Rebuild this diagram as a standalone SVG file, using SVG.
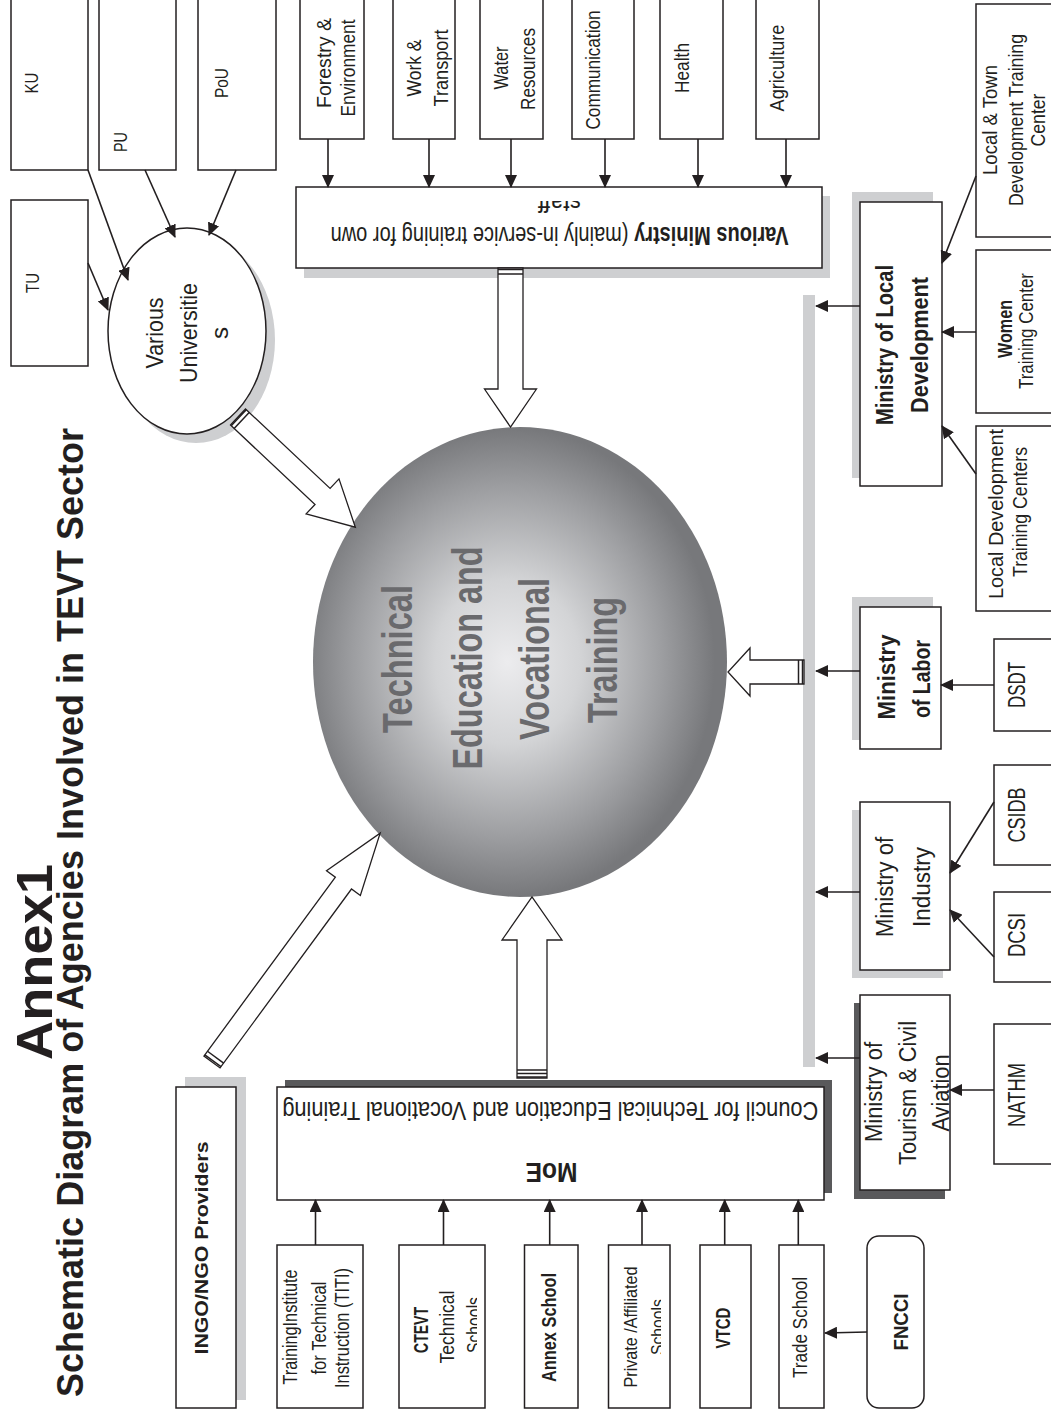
<svg xmlns="http://www.w3.org/2000/svg" width="1051" height="1418" viewBox="0 0 1051 1418">
<defs>
<style>
.t{font-family:"Liberation Sans",Arial,sans-serif;fill:#231f20;text-anchor:middle}
.b{font-weight:bold}
.box{fill:#fff;stroke:#231f20;stroke-width:1.5}
.sh{fill:#cecfd1}
.dsh{fill:#59595b}
.ln{stroke:#231f20;stroke-width:1.6;fill:none;marker-end:url(#ah)}
.blk{fill:#fff;stroke:#231f20;stroke-width:1.3}
.cap{stroke:#231f20;stroke-width:1.5}
.tv{font-family:"Liberation Sans",Arial,sans-serif;font-weight:bold;fill:#6a6a6d;text-anchor:middle}
</style>
<marker id="ah" markerUnits="userSpaceOnUse" markerWidth="13" markerHeight="12" viewBox="0 0 13 12" refX="12" refY="6" orient="auto"><path d="M0,0 L13,6 L0,12 z" fill="#231f20"/></marker>
<radialGradient id="gv" cx="0.47" cy="0.5" r="0.5">
<stop offset="0" stop-color="#ececee"/>
<stop offset="0.35" stop-color="#d3d4d6"/>
<stop offset="0.75" stop-color="#9c9da0"/>
<stop offset="1" stop-color="#77787b"/>
</radialGradient>
<clipPath id="cStaff"><rect x="290" y="201" width="540" height="20"/></clipPath>
<clipPath id="cS1"><rect x="440" y="1250" width="37" height="150"/></clipPath>
<clipPath id="cS2"><rect x="600" y="1250" width="61" height="150"/></clipPath>
</defs>
<rect width="1051" height="1418" fill="#fff"/>

<g id="title">
<text class="t b" font-size="50" transform="translate(52,962) rotate(-90)" textLength="196" lengthAdjust="spacingAndGlyphs">Annex1</text>
<text class="t b" font-size="36" style="text-anchor:end" transform="translate(83,428) rotate(-90)">Schematic Diagram of Agencies Involved in TEVT Sector</text>
</g>

<g id="node-ku"><rect class="box" x="11" y="-5" width="77" height="175"/>
<text class="t" font-size="18" transform="translate(38,83) rotate(-90)" textLength="21" lengthAdjust="spacingAndGlyphs">KU</text></g>
<g id="node-pu"><rect class="box" x="99" y="-5" width="77" height="175"/>
<text class="t" font-size="18" transform="translate(127,142) rotate(-90)" textLength="20" lengthAdjust="spacingAndGlyphs">PU</text></g>
<g id="node-pou"><rect class="box" x="198" y="-5" width="78" height="175"/>
<text class="t" font-size="18" transform="translate(228,83) rotate(-90)" textLength="30" lengthAdjust="spacingAndGlyphs">PoU</text></g>
<g id="node-tu"><rect class="box" x="11" y="200" width="77" height="166"/>
<text class="t" font-size="18" transform="translate(39,283) rotate(-90)" textLength="20" lengthAdjust="spacingAndGlyphs">TU</text></g>

<g id="node-universities">
<ellipse class="sh" cx="196" cy="340" rx="79" ry="103"/>
<ellipse class="box" cx="187" cy="331" rx="79" ry="103"/>
<text class="t" font-size="24" transform="translate(163,333) rotate(-90)" textLength="71" lengthAdjust="spacingAndGlyphs">Various</text>
<text class="t" font-size="24" transform="translate(197,333) rotate(-90)" textLength="100" lengthAdjust="spacingAndGlyphs">Universitie</text>
<text class="t" font-size="24" transform="translate(228,333) rotate(-90)">s</text>
</g>

<g id="node-forestry"><rect class="box" x="300" y="-5" width="64" height="144"/>
<text class="t" font-size="21" transform="translate(331,63) rotate(-90)" textLength="90" lengthAdjust="spacingAndGlyphs">Forestry &amp;</text>
<text class="t" font-size="21" transform="translate(355,68) rotate(-90)" textLength="97" lengthAdjust="spacingAndGlyphs">Environment</text></g>
<g id="node-work"><rect class="box" x="393" y="-5" width="62" height="144"/>
<text class="t" font-size="21" transform="translate(421,68) rotate(-90)" textLength="57" lengthAdjust="spacingAndGlyphs">Work &amp;</text>
<text class="t" font-size="21" transform="translate(448,68) rotate(-90)" textLength="77" lengthAdjust="spacingAndGlyphs">Transport</text></g>
<g id="node-water"><rect class="box" x="480" y="-5" width="63" height="144"/>
<text class="t" font-size="21" transform="translate(508,68) rotate(-90)" textLength="43" lengthAdjust="spacingAndGlyphs">Water</text>
<text class="t" font-size="21" transform="translate(535,69) rotate(-90)" textLength="82" lengthAdjust="spacingAndGlyphs">Resources</text></g>
<g id="node-communication"><rect class="box" x="572" y="-5" width="62" height="144"/>
<text class="t" font-size="21" transform="translate(600,70) rotate(-90)" textLength="119" lengthAdjust="spacingAndGlyphs">Communication</text></g>
<g id="node-health"><rect class="box" x="660" y="-5" width="63" height="144"/>
<text class="t" font-size="21" transform="translate(689,68) rotate(-90)" textLength="50" lengthAdjust="spacingAndGlyphs">Health</text></g>
<g id="node-agriculture"><rect class="box" x="756" y="-5" width="63" height="144"/>
<text class="t" font-size="21" transform="translate(784,68) rotate(-90)" textLength="87" lengthAdjust="spacingAndGlyphs">Agriculture</text></g>

<g id="node-various-ministry">
<rect class="sh" x="304" y="196" width="526" height="82"/>
<rect class="box" x="296" y="187" width="526" height="81"/>
<text class="t" font-size="25" transform="translate(559.6,227) rotate(180)" textLength="458" lengthAdjust="spacingAndGlyphs"><tspan class="b">Various Ministry</tspan> (mainly in-service training for own</text>
<g clip-path="url(#cStaff)"><text class="t" font-size="25" transform="translate(559.5,194) rotate(180)" textLength="43" lengthAdjust="spacingAndGlyphs">staff</text></g>
</g>

<g id="node-tevt">
<ellipse cx="520" cy="662" rx="207" ry="235" fill="url(#gv)"/>
<text class="tv" font-size="43" transform="translate(412,659) rotate(-90)" textLength="148" lengthAdjust="spacingAndGlyphs">Technical</text>
<text class="tv" font-size="43" transform="translate(482,658) rotate(-90)" textLength="223" lengthAdjust="spacingAndGlyphs">Education and</text>
<text class="tv" font-size="43" transform="translate(549,659) rotate(-90)" textLength="162" lengthAdjust="spacingAndGlyphs">Vocational</text>
<text class="tv" font-size="43" transform="translate(617,660) rotate(-90)" textLength="126" lengthAdjust="spacingAndGlyphs">Training</text>
</g>

<g id="node-local-dev">
<rect class="sh" x="852" y="192" width="81" height="286"/>
<rect class="box" x="860" y="202" width="82" height="284"/>
<text class="t b" font-size="23" transform="translate(893,345) rotate(-90)" textLength="160" lengthAdjust="spacingAndGlyphs">Ministry of Local</text>
<text class="t b" font-size="23" transform="translate(928,345) rotate(-90)" textLength="136" lengthAdjust="spacingAndGlyphs">Development</text>
</g>
<g id="node-local-town"><rect class="box" x="976" y="4" width="84" height="233"/>
<text class="t" font-size="20" transform="translate(997,120) rotate(-90)" textLength="110" lengthAdjust="spacingAndGlyphs">Local &amp; Town</text>
<text class="t" font-size="20" transform="translate(1023,120) rotate(-90)" textLength="172" lengthAdjust="spacingAndGlyphs">Development Training</text>
<text class="t" font-size="20" transform="translate(1045,120) rotate(-90)" textLength="53" lengthAdjust="spacingAndGlyphs">Center</text></g>
<g id="node-women"><rect class="box" x="976" y="250" width="84" height="163"/>
<text class="t b" font-size="20" transform="translate(1012,329) rotate(-90)" textLength="58" lengthAdjust="spacingAndGlyphs">Women</text>
<text class="t" font-size="20" transform="translate(1033,331) rotate(-90)" textLength="116" lengthAdjust="spacingAndGlyphs">Training Center</text></g>
<g id="node-ldtc"><rect class="box" x="976" y="426" width="84" height="185"/>
<text class="t" font-size="20" transform="translate(1003,514) rotate(-90)" textLength="170" lengthAdjust="spacingAndGlyphs">Local Development</text>
<text class="t" font-size="20" transform="translate(1027,512) rotate(-90)" textLength="130" lengthAdjust="spacingAndGlyphs">Training Centers</text></g>

<g id="node-labor">
<rect class="sh" x="852" y="597" width="81" height="143"/>
<rect class="box" x="860" y="607" width="81" height="142"/>
<text class="t b" font-size="24" transform="translate(895,677) rotate(-90)" textLength="85" lengthAdjust="spacingAndGlyphs">Ministry</text>
<text class="t b" font-size="24" transform="translate(930,679) rotate(-90)" textLength="78" lengthAdjust="spacingAndGlyphs">of Labor</text>
</g>
<g id="node-dsdt"><rect class="box" x="994" y="639" width="66" height="92"/>
<text class="t" font-size="23" transform="translate(1025,685) rotate(-90)" textLength="46" lengthAdjust="spacingAndGlyphs">DSDT</text></g>

<g id="node-industry">
<rect class="sh" x="852" y="810" width="91" height="168"/>
<rect class="box" x="860" y="802" width="90" height="168"/>
<text class="t" font-size="23" transform="translate(893,887) rotate(-90)" textLength="100" lengthAdjust="spacingAndGlyphs">Ministry of</text>
<text class="t" font-size="23" transform="translate(930,887) rotate(-90)" textLength="80" lengthAdjust="spacingAndGlyphs">Industry</text>
</g>
<g id="node-csidb"><rect class="box" x="994" y="765" width="66" height="100"/>
<text class="t" font-size="23" transform="translate(1025,815) rotate(-90)" textLength="55" lengthAdjust="spacingAndGlyphs">CSIDB</text></g>
<g id="node-dcsi"><rect class="box" x="994" y="892" width="66" height="90"/>
<text class="t" font-size="23" transform="translate(1025,935) rotate(-90)" textLength="44" lengthAdjust="spacingAndGlyphs">DCSI</text></g>

<g id="node-tourism">
<rect class="dsh" x="854" y="1003" width="91" height="196"/>
<rect class="box" x="860" y="995" width="90" height="195"/>
<text class="t" font-size="23" transform="translate(882,1092) rotate(-90)" textLength="100" lengthAdjust="spacingAndGlyphs">Ministry of</text>
<text class="t" font-size="23" transform="translate(916,1093) rotate(-90)" textLength="144" lengthAdjust="spacingAndGlyphs">Tourism &amp; Civil</text>
<text class="t" font-size="23" transform="translate(949,1093) rotate(-90)" textLength="77" lengthAdjust="spacingAndGlyphs">Aviation</text>
</g>
<g id="node-nathm"><rect class="box" x="994" y="1024" width="66" height="140"/>
<text class="t" font-size="23" transform="translate(1025,1095) rotate(-90)" textLength="64" lengthAdjust="spacingAndGlyphs">NATHM</text></g>

<g id="node-moe">
<rect class="dsh" x="285" y="1080" width="547" height="113"/>
<rect class="box" x="277" y="1087" width="547" height="113"/>
<text class="t" font-size="25" transform="translate(550.3,1102) rotate(180)" textLength="536" lengthAdjust="spacingAndGlyphs">Council for Technical Education and Vocational Training</text>
<text class="t b" font-size="28" transform="translate(551.5,1163) rotate(180)" textLength="52" lengthAdjust="spacingAndGlyphs">MoE</text>
</g>

<g id="node-ingo">
<rect class="sh" x="185" y="1077" width="61" height="323"/>
<rect class="box" x="176" y="1087" width="60" height="321"/>
<text class="t b" font-size="19" transform="translate(208,1248) rotate(-90)" textLength="213" lengthAdjust="spacingAndGlyphs">INGO/NGO Providers</text>
</g>

<g id="node-titi"><rect class="box" x="277" y="1245" width="86" height="163"/>
<text class="t" font-size="20" transform="translate(297,1327) rotate(-90)" textLength="115" lengthAdjust="spacingAndGlyphs">TrainingInstitute</text>
<text class="t" font-size="20" transform="translate(326,1328) rotate(-90)" textLength="93" lengthAdjust="spacingAndGlyphs">for Technical</text>
<text class="t" font-size="20" transform="translate(349,1328) rotate(-90)" textLength="120" lengthAdjust="spacingAndGlyphs">Instruction (TITI)</text></g>
<g id="node-ctevt"><rect class="box" x="399" y="1245" width="86" height="163"/>
<text class="t b" font-size="21" transform="translate(428,1330) rotate(-90)" textLength="46" lengthAdjust="spacingAndGlyphs">CTEVT</text>
<text class="t" font-size="21" transform="translate(454,1327) rotate(-90)" textLength="73" lengthAdjust="spacingAndGlyphs">Technical</text>
<g clip-path="url(#cS1)"><text class="t" font-size="21" transform="translate(481,1325) rotate(-90)" textLength="56" lengthAdjust="spacingAndGlyphs">Schools</text></g></g>
<g id="node-annex"><rect class="box" x="524.5" y="1245" width="53.5" height="163"/>
<text class="t b" font-size="21" transform="translate(556,1327.5) rotate(-90)" textLength="109" lengthAdjust="spacingAndGlyphs">Annex School</text></g>
<g id="node-private"><rect class="box" x="608.5" y="1245" width="61.5" height="163"/>
<text class="t" font-size="19" transform="translate(637,1327) rotate(-90)" textLength="121" lengthAdjust="spacingAndGlyphs">Private /Affiliated</text>
<g clip-path="url(#cS2)"><text class="t" font-size="19" transform="translate(664,1327) rotate(-90)" textLength="56" lengthAdjust="spacingAndGlyphs">Schools</text></g></g>
<g id="node-vtcd"><rect class="box" x="700" y="1245" width="51" height="163"/>
<text class="t b" font-size="21" transform="translate(730,1328) rotate(-90)" textLength="41" lengthAdjust="spacingAndGlyphs">VTCD</text></g>
<g id="node-trade"><rect class="box" x="779" y="1245" width="45" height="163"/>
<text class="t" font-size="21" transform="translate(807,1327.5) rotate(-90)" textLength="101" lengthAdjust="spacingAndGlyphs">Trade School</text></g>
<g id="node-fncci"><rect class="box" x="867" y="1236" width="57" height="172" rx="12"/>
<text class="t b" font-size="21" transform="translate(908,1322) rotate(-90)" textLength="57" lengthAdjust="spacingAndGlyphs">FNCCI</text></g>

<g id="connectors">
<line x1="809" y1="295" x2="809" y2="1067" stroke="#cecfd1" stroke-width="12"/>
<line class="ln" x1="88" y1="263" x2="108" y2="310"/>
<line class="ln" x1="88" y1="170" x2="128" y2="280"/>
<line class="ln" x1="145" y1="170" x2="175" y2="237"/>
<line class="ln" x1="236" y1="170" x2="209" y2="235"/>
<line class="ln" x1="328" y1="139" x2="328" y2="187"/>
<line class="ln" x1="429" y1="139" x2="429" y2="187"/>
<line class="ln" x1="511" y1="139" x2="511" y2="187"/>
<line class="ln" x1="605" y1="139" x2="605" y2="187"/>
<line class="ln" x1="698" y1="139" x2="698" y2="187"/>
<line class="ln" x1="786" y1="139" x2="786" y2="187"/>
<line class="ln" x1="976" y1="176" x2="942" y2="263"/>
<line class="ln" x1="976" y1="332" x2="942" y2="332"/>
<line class="ln" x1="976" y1="474" x2="942" y2="426"/>
<line class="ln" x1="860" y1="306" x2="816" y2="306"/>
<line class="ln" x1="860" y1="671" x2="816" y2="671"/>
<line class="ln" x1="994" y1="685" x2="941" y2="685"/>
<line class="ln" x1="860" y1="892" x2="816" y2="892"/>
<line class="ln" x1="994" y1="802" x2="950" y2="873"/>
<line class="ln" x1="994" y1="957" x2="950" y2="910"/>
<line class="ln" x1="860" y1="1058" x2="816" y2="1058"/>
<line class="ln" x1="994" y1="1090" x2="950" y2="1090"/>
<line class="ln" x1="315.5" y1="1245" x2="315.5" y2="1200"/>
<line class="ln" x1="443.5" y1="1245" x2="443.5" y2="1200"/>
<line class="ln" x1="549.7" y1="1245" x2="549.7" y2="1200"/>
<line class="ln" x1="642" y1="1245" x2="642" y2="1200"/>
<line class="ln" x1="724.7" y1="1245" x2="724.7" y2="1200"/>
<line class="ln" x1="798.3" y1="1245" x2="798.3" y2="1200"/>
<line class="ln" x1="867" y1="1332" x2="825" y2="1333"/>

<g transform="translate(238,417) rotate(43.2)">
<path class="blk" d="M0,-11 L116,-11 L116,-24 L161,0 L116,24 L116,11 L0,11 Z"/>
<line class="cap" x1="1" y1="-11" x2="1" y2="11" stroke-width="2.5"/><line class="cap" x1="5" y1="-11" x2="5" y2="11"/>
</g>
<g transform="translate(510.5,268) rotate(90)">
<path class="blk" d="M0,-12.5 L121,-12.5 L121,-26 L159,0 L121,26 L121,12.5 L0,12.5 Z"/>
<line class="cap" x1="1.5" y1="-12.5" x2="1.5" y2="12.5" stroke-width="2.5"/><line class="cap" x1="6" y1="-12.5" x2="6" y2="12.5"/>
</g>
<g transform="translate(804,672) rotate(180)">
<path class="blk" d="M0,-12 L54,-12 L54,-24 L76,0 L54,24 L54,12 L0,12 Z"/>
<line class="cap" x1="1.5" y1="-12" x2="1.5" y2="12" stroke-width="2.5"/><line class="cap" x1="5.5" y1="-12" x2="5.5" y2="12"/>
</g>
<g transform="translate(532,1078) rotate(-90)">
<path class="blk" d="M0,-15 L138,-15 L138,-30 L181,0 L138,30 L138,15 L0,15 Z"/>
<line class="cap" x1="1" y1="-15" x2="1" y2="15"/><line class="cap" x1="4.5" y1="-15" x2="4.5" y2="15"/><line class="cap" x1="8" y1="-15" x2="8" y2="15"/>
</g>
<g transform="translate(212,1062) rotate(-53.7)">
<path class="blk" d="M0,-10 L222,-10 L222,-21 L284,0 L222,21 L222,10 L0,10 Z"/>
<line class="cap" x1="1.5" y1="-10" x2="1.5" y2="10" stroke-width="3"/><line class="cap" x1="6" y1="-10" x2="6" y2="10"/>
</g>
</g>
</svg>
